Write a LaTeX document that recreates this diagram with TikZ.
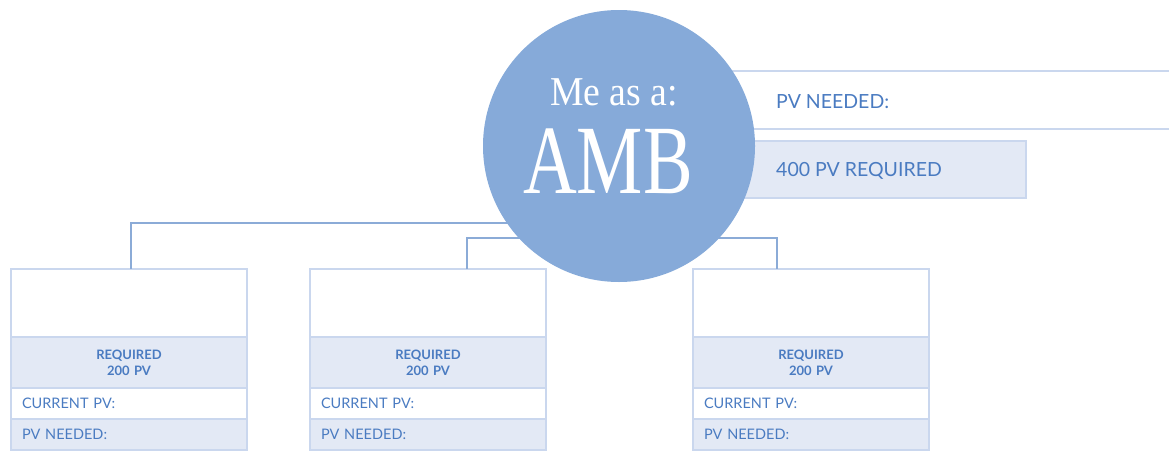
\documentclass[tikz,border=0pt]{standalone}
\usepackage{fontspec}
\setsansfont{Lato}
\newfontfamily\circfont{Liberation Serif}
\usetikzlibrary{positioning}
\definecolor{circ}{HTML}{86AAD9}
\definecolor{wire}{HTML}{8BABD7}
\definecolor{edge}{HTML}{CAD7EE}
\definecolor{band}{HTML}{E3E9F5}
\definecolor{ink}{HTML}{4A7BC1}
\tikzset{
    cell/.style={draw=edge, line width=2pt, minimum width=236pt, inner sep=0pt, outer sep=0pt, text=ink, text width=214pt},
    headcell/.style={cell, minimum height=68pt},
    reqcell/.style={cell, fill=band, minimum height=51pt, align=center, font=\sffamily\bfseries\fontsize{13}{16}\selectfont},
    pvcell/.style={cell, minimum height=31pt, align=left, font=\sffamily\fontsize{14.5}{16}\selectfont},
    wire/.style={draw=wire, line width=2pt},
    tag/.style={anchor=west, inner sep=0pt, text=ink, font=\sffamily\fontsize{19.5}{21}\selectfont},
}
\begin{document}
\begin{tikzpicture}[x=1pt, y=-1pt]
        \useasboundingbox (0,0) rectangle (1169,450);
        \node[headcell] (B1) at (129,303) {};
        \node[reqcell, below=0pt of B1] (R1) {REQUIRED\\200 PV};
        \node[pvcell, below=0pt of R1] (C1) {CURRENT PV:};
        \node[pvcell, fill=band, below=0pt of C1] (N1) {PV NEEDED:};
        \node[headcell] (B2) at (428,303) {};
        \node[reqcell, below=0pt of B2] (R2) {REQUIRED\\200 PV};
        \node[pvcell, below=0pt of R2] (C2) {CURRENT PV:};
        \node[pvcell, fill=band, below=0pt of C2] (N2) {PV NEEDED:};
        \node[headcell] (B3) at (811,303) {};
        \node[reqcell, below=0pt of B3] (R3) {REQUIRED\\200 PV};
        \node[pvcell, below=0pt of R3] (C3) {CURRENT PV:};
        \node[pvcell, fill=band, below=0pt of C3] (N3) {PV NEEDED:};
        \coordinate (J) at (560,223);
        \draw[wire] ([xshift=2pt]B1.north) |- (J);
        \draw[wire] ([xshift=39pt]B2.north) -- ++(0,-31) -| ([xshift=-34pt]B3.north);
        \node[draw=edge, line width=2pt, minimum width=480pt, minimum height=58pt, anchor=west, inner sep=0pt] (P) at (700,100) {};
        \node[draw=edge, fill=band, line width=2pt, minimum width=325pt, minimum height=57pt, anchor=west, inner sep=0pt] (Q) at (700,169.5) {};
        \node[tag] (PT) at (776,101.5) {PV NEEDED:};
        \node[tag] (QT) at (776,171) {400 PV REQUIRED};
        \node[circle, fill=circ, minimum size=272pt, inner sep=0pt] (M) at (619,146) {};
        \node[anchor=base, text=white, font=\circfont\fontsize{41}{41}\selectfont] (MA) at (614,105) {\scalebox{0.92}[1]{Me as a:}};
        \node[anchor=base, text=white, font=\circfont\fontsize{98}{98}\selectfont] (AMB) at (608,193) {\scalebox{0.76}[1]{AMB}};
    \end{tikzpicture}
\end{document}
